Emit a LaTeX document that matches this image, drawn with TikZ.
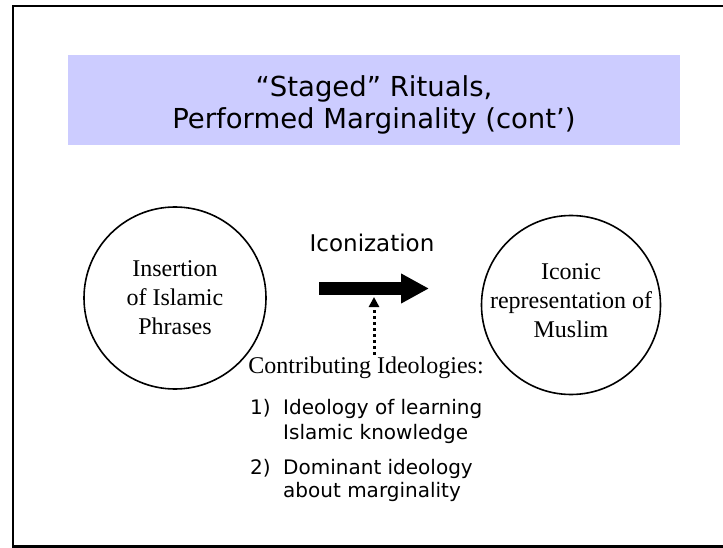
\documentclass[tikz,border=0pt]{standalone}
\usepackage{fontspec}
\setmainfont{Liberation Serif}
\newfontfamily\vsans{DejaVu Sans}
\usetikzlibrary{arrows.meta}
\definecolor{titlebg}{HTML}{CCCCFF}
\begin{document}
\begin{tikzpicture}[x=1pt,y=-1pt,
  bubble/.style={circle, draw, line width=1.6pt, inner sep=0pt, align=center,
    font=\fontsize{24}{29}\selectfont},
  bubbletext/.style={align=center, inner sep=0pt, font=\fontsize{24}{29}\selectfont},
  lst/.style={anchor=base west, inner sep=0pt, font=\vsans\fontsize{20}{24}\selectfont},
  ttl/.style={anchor=base, inner sep=0pt, font=\vsans\fontsize{27.5}{33}\selectfont},
  titlebox/.style={fill=titlebg, minimum width=612pt, minimum height=90pt}]
\useasboundingbox (0,0) rectangle (723,548);
% frame
\draw[line width=2.4pt] (740,6) -- (13,6) -- (13,546.5) -- (740,546.5);
% title
\node[titlebox] (title) at (374,100) {};
\node[ttl] (t1) at (374,97) {“Staged” Rituals,};
\node[ttl] (t2) at (374,129) {Performed Marginality (cont’)};
% circles
\node[bubble, minimum size=182pt] (ins) at (175,298) {Insertion\\of Islamic\\Phrases};
\node[bubble, minimum size=179pt] (icon) at (571,305) {};
\node[bubbletext] (icontxt) at (571,301) {Iconic\\representation of\\Muslim};
% iconization label and arrow
\node[font=\vsans\fontsize{23}{28}\selectfont] (lab) at (372,243) {Iconization};
\coordinate (a1) at (319,288.5);
\coordinate (a2) at (429,288.5);
\draw[line width=13.5pt, -{Triangle[length=28pt,width=28pt]}] (a1) -- (a2);
% contributing
\node[font=\fontsize{24}{29}\selectfont, inner sep=2pt] (contrib) at (366,368) {Contributing Ideologies:};
\coordinate (dtip) at (374,297);
\draw[line width=3pt, dash pattern=on 3pt off 3pt, -{Triangle[length=10pt,width=10pt]}]
  (contrib.north -| dtip) -- (dtip);
% list
\node[lst] (n1) at (250,414) {1)};
\node[lst] (l1a) at (283,414) {Ideology of learning};
\node[lst] (l1b) at (283,439) {Islamic knowledge};
\node[lst] (n2) at (250,474) {2)};
\node[lst] (l2a) at (283,474) {Dominant ideology};
\node[lst] (l2b) at (283,497) {about marginality};
\end{tikzpicture}
\end{document}
